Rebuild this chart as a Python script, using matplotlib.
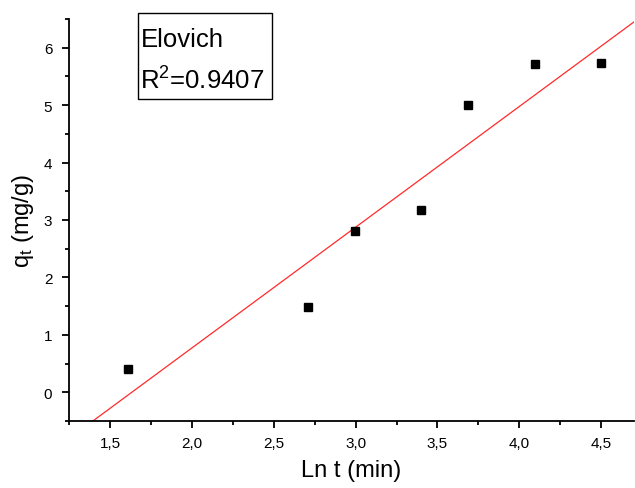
import numpy as np
import matplotlib
matplotlib.use("Agg")
import matplotlib.pyplot as plt
from matplotlib.ticker import MultipleLocator, FuncFormatter
from matplotlib.patches import Rectangle

plt.rcParams['font.family'] = ['Liberation Sans', 'DejaVu Sans']
plt.rcParams['mathtext.fontset'] = 'custom'
plt.rcParams['mathtext.rm'] = 'Liberation Sans'
plt.rcParams['mathtext.it'] = 'Liberation Sans'

# Elovich kinetics: ln t vs adsorbed amount
time_min = [5, 15, 20, 30, 40, 60, 90]
qt = [0.40, 1.48, 2.81, 3.18, 5.00, 5.72, 5.73]
r_squared_text = "0.9407"

ln_t = np.log(time_min)
slope, intercept = np.polyfit(ln_t, qt, 1)

W, H = 635, 489
fig = plt.figure(figsize=(W / 100, H / 100), dpi=100)
ax = fig.add_axes([69 / W, 1 - 422 / H, (634 - 69) / W, (422 - 20) / H])

x_fit = np.linspace(1.25, 4.7, 200)
ax.plot(x_fit, slope * x_fit + intercept, color='#ff2a2a', lw=0.9, zorder=2)
ax.plot(ln_t, qt, 's', color='black', ms=6, zorder=3)

ax.set_xlim(1.25, 4.7)
ax.set_ylim(-0.5, 6.5)
for side in ('top', 'right'):
    ax.spines[side].set_visible(False)
for side in ('left', 'bottom'):
    ax.spines[side].set_linewidth(1.3)

ax.xaxis.set_major_locator(MultipleLocator(0.5))
ax.xaxis.set_minor_locator(MultipleLocator(0.25))
ax.yaxis.set_major_locator(MultipleLocator(1))
ax.yaxis.set_minor_locator(MultipleLocator(0.5))
ax.xaxis.set_major_formatter(FuncFormatter(lambda v, p: f"{v:.1f}".replace('.', ',')))
ax.yaxis.set_major_formatter(FuncFormatter(lambda v, p: f"{v:.0f}"))
ax.tick_params(which='major', direction='out', length=5, width=1.3, labelsize=11)
ax.tick_params(axis='x', which='major', pad=6)
ax.tick_params(axis='y', which='major', pad=7)
ax.tick_params(which='minor', direction='out', length=3, width=1.3)

ax.set_xlabel("Ln t (min)", fontsize=17, labelpad=6)
ax.set_ylabel(r"q$_\mathregular{t}$ (mg/g)", fontsize=17, labelpad=6)

# annotation box with model name and fit quality
fig.add_artist(Rectangle((138 / W, 1 - 100 / H), (272 - 138) / W, (100 - 14) / H,
                         transform=fig.transFigure, fc='white', ec='black', lw=1.0, zorder=5))
fig.text(141 / W, 1 - 47 / H, "Elovich", fontsize=18.5, va='baseline', ha='left', zorder=6)
fig.text(140 / W, 1 - 90 / H, r"R$^\mathregular{2}$=" + r_squared_text,
         fontsize=18.5, va='baseline', ha='left', zorder=6)

fig.savefig("out.png", dpi=100)
